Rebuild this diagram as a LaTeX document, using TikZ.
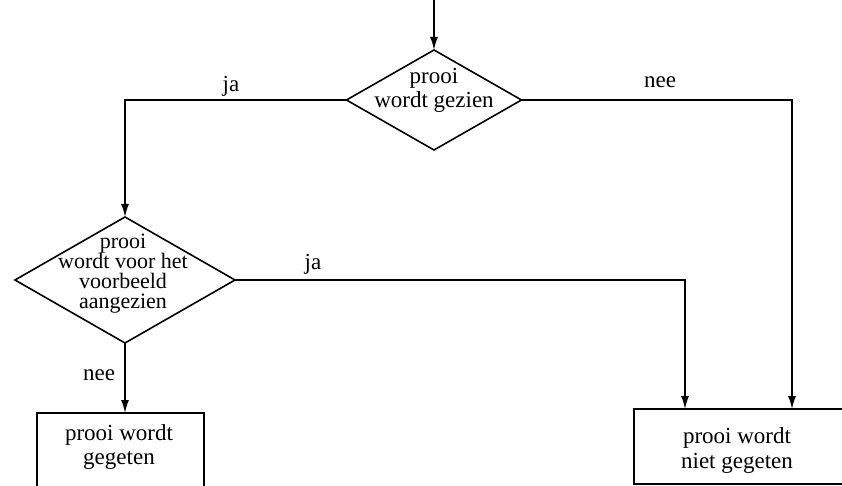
\documentclass[tikz,border=0pt]{standalone}
\usepackage{fontspec}
\setmainfont{Liberation Serif}
\usetikzlibrary{arrows.meta,shapes.geometric}

\tikzset{
  line/.style={line width=1.6pt},
  arr/.style={line, -{Latex[length=13pt,width=8pt]}},
  decision/.style={shape=diamond, draw, line width=1.6pt, inner sep=0pt,
    outer sep=0pt},
  outcome/.style={shape=rectangle, draw, line width=1.6pt, inner sep=0pt,
    outer sep=0pt},
  txt/.style={align=center, inner sep=0pt, font=\fontsize{23}{24}\selectfont},
  lbl/.style={anchor=base, inner sep=0pt, font=\fontsize{23}{24}\selectfont}
}

\begin{document}
\begin{tikzpicture}[x=1pt, y=-1pt]
  \useasboundingbox (0,0) rectangle (842,486);
  \clip (0,0) rectangle (842,486);

  % decisions
  \node[decision, minimum width=175pt, minimum height=100pt] (d1) at (434,100) {};
  \node[txt] (t1) at (434,90) {prooi\\wordt gezien};

  \node[decision, minimum width=220pt, minimum height=126pt] (d2) at (125,280) {};
  \node[txt, font=\fontsize{22}{20}\selectfont] (t2) at (123,274)
    {prooi\\wordt voor het\\voorbeeld\\aangezien};

  % outcomes (partly running off the page)
  \node[outcome, minimum width=167pt, minimum height=87pt] (b1) at (120.5,456.5) {};
  \node[txt, font=\fontsize{23}{24}\selectfont] (tb1) at (119,447) {prooi wordt\\gegeten};

  \node[outcome, minimum width=212pt, minimum height=75pt] (b2) at (740,446.5) {};
  \node[txt, font=\fontsize{23}{25}\selectfont] (tb2) at (737,450) {prooi wordt\\niet gegeten};

  % connectors
  \coordinate (in) at (434,0);
  \draw[arr] (in) -- (d1.north);
  \draw[arr] (d1.west) -| (d2.north);
  \draw[arr] (d1.east) -| ([xshift=52pt]b2.north);
  \draw[arr] (d2.east) -| ([xshift=-55pt]b2.north);
  \draw[arr] (d2.south) -- (d2.south |- b1.north);

  % branch labels
  \node[lbl] (l1) at (231,92) {ja};
  \node[lbl] (l2) at (660,88) {nee};
  \node[lbl] (l3) at (313,269) {ja};
  \node[lbl] (l4) at (99,380) {nee};
\end{tikzpicture}
\end{document}
